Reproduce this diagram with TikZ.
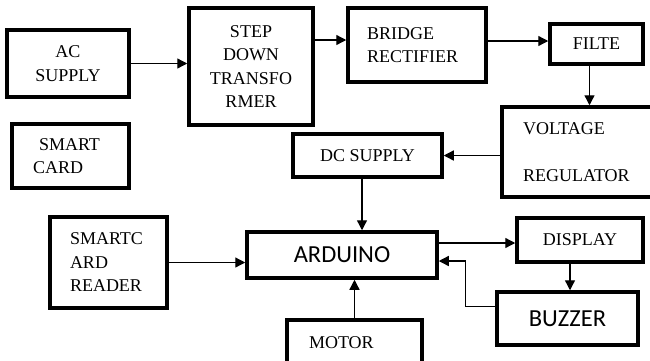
\documentclass[tikz,border=0pt]{standalone}
\usepackage{fontspec}
\setmainfont{Liberation Serif}
\newfontfamily\calib{Carlito}
\usetikzlibrary{arrows.meta}

\begin{document}
\begin{tikzpicture}[x=1pt,y=-1pt,
  blk/.style={draw,line width=3.5pt,inner sep=0pt,
    font=\fontsize{18}{23.5}\selectfont},
  sblk/.style={blk,font=\calib\fontsize{24.5}{28}\selectfont},
  arr/.style={line width=1.3pt,-{Triangle[length=10pt,width=10pt]}}]
  \useasboundingbox (0,0) rectangle (650,360);
  \clip (0,0) rectangle (650,360);

  \node[blk,minimum width=122,minimum height=67,align=center] (ac) at (68,63.5) {AC\\SUPPLY};
  \node[blk,minimum width=124,minimum height=117,align=center] (step) at (251,66.5) {STEP\\DOWN\\TRANSFO\\RMER};
  \node[blk,minimum width=138,minimum height=74,text width=100,align=left] (bridge) at (417,45) {BRIDGE\\RECTIFIER};
  \node[blk,minimum width=93,minimum height=40] (filter) at (596.5,44) {FILTE};
  \node[blk,minimum width=158,minimum height=90,text width=116,align=left] (reg) at (581,152) {VOLTAGE\\\mbox{}\\REGULATOR};
  \node[blk,minimum width=149,minimum height=43] (dc) at (367.5,155.5) {DC SUPPLY};
  \node[blk,minimum width=117,minimum height=64,text width=75,align=left] (card) at (70.5,156) {\hspace{6pt}SMART\\CARD};
  \node[blk,minimum width=117,minimum height=91,text width=77,align=left] (reader) at (108.5,262.5) {SMARTC\\ARD\\READER};
  \node[sblk,minimum width=190,minimum height=46] (ard) at (342,255) {ARDUINO};
  \node[blk,minimum width=135,minimum height=46,text width=91,align=left] (motor) at (354.5,343) {MOTOR};
  \node[blk,minimum width=126,minimum height=44] (disp) at (580,240) {DISPLAY};
  \node[sblk,minimum width=141,minimum height=53] (buzz) at (567.5,318.5) {BUZZER};

  % power chain
  \draw[arr] (ac.east) -- (ac.east -| step.west);
  \draw[arr] ([yshift=5pt]bridge.west -| step.east) -- ([yshift=5pt]bridge.west);
  \draw[arr] ([yshift=3pt]filter.west -| bridge.east) -- ([yshift=3pt]filter.west);
  \draw[arr] ([xshift=-7pt]filter.south) -- ([xshift=-7pt]filter.south |- reg.north);
  \draw[arr] (dc.east -| reg.west) -- (dc.east);
  \draw[arr] ([xshift=-5.5pt]dc.south) -- ([xshift=-5.5pt]dc.south |- ard.north);

  % arduino links
  \draw[arr] (reader.east) -- (reader.east -| ard.west);
  \draw[arr] (motor.north) -- (motor.north |- ard.south);
  \draw[arr] ([yshift=-3pt]disp.west -| ard.east) -- ([yshift=-3pt]disp.west);
  \draw[arr] ([xshift=-10pt]disp.south) -- ([xshift=-10pt]disp.south |- buzz.north);
  \draw[arr] ([yshift=12pt]buzz.west) -- ++(-30,0) |- ([yshift=-6pt]ard.east);
\end{tikzpicture}
\end{document}
